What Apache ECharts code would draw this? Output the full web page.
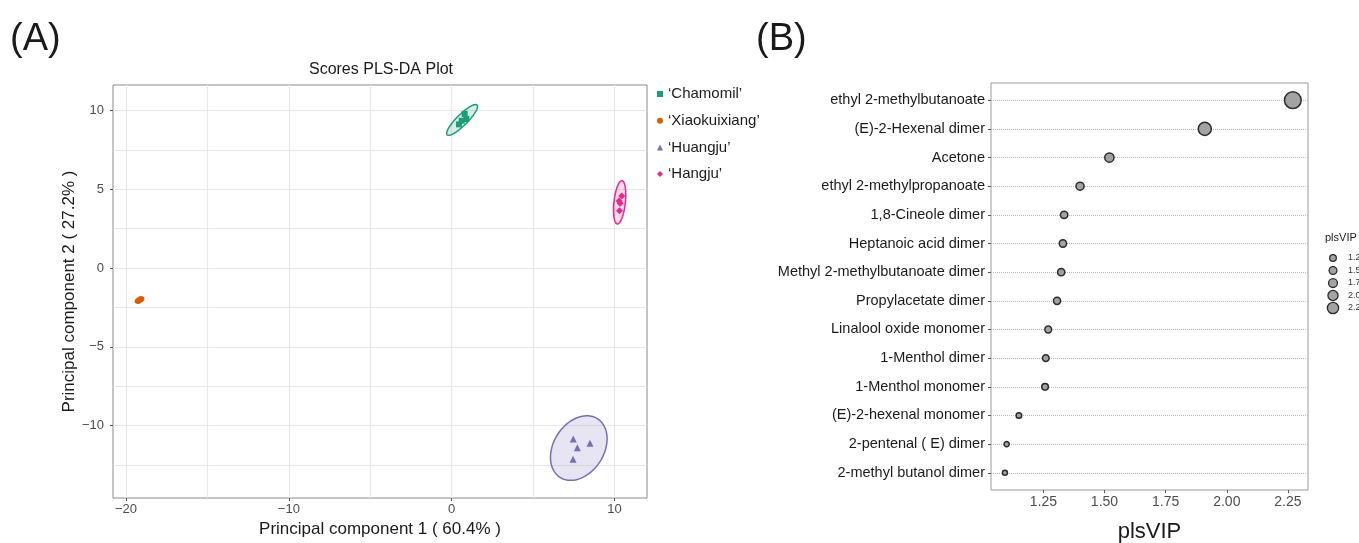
<!DOCTYPE html>
<html><head><meta charset="utf-8">
<script src="https://cdn.jsdelivr.net/npm/echarts@6/dist/echarts.min.js"></script>
<style>html,body{margin:0;padding:0;background:#fff}#c{width:1359px;height:543px}</style>
</head><body><div id="c"></div>
<script>
// ---------- Panel A: PLS-DA scores ----------
const groupNames = ['‘Chamomil’', '‘Xiaokuixiang’', '‘Huangju’', '‘Hangju’'];
const groupColors = ['#1b9e77', '#d95f02', '#7570b3', '#e7298a'];
const groupSymbols = ['rect', 'circle', 'triangle', 'diamond'];
const chamomilPts = [[0.45, 9.12], [0.62, 9.35], [0.90, 9.46], [0.80, 9.78]];
const xiaokuixiangPts = [[-19.25, -2.10], [-19.15, -2.02], [-19.08, -1.96]];
const huangjuPts = [[7.47, -10.86], [7.72, -11.41], [8.50, -11.13], [7.46, -12.14]];
const hangjuPts = [[10.45, 4.57], [10.29, 4.25], [10.35, 4.11], [10.31, 3.64]];
// confidence ellipses: [centerX, centerY, semiMajor, semiMinor, angleDeg]
const chamomilEllipse = [0.64, 9.40, 1.32, 0.34, 46];
const xiaokuixiangEllipse = [-19.17, -2.03, 0.28, 0.13, 25];
const huangjuEllipse = [7.81, -11.43, 2.19, 1.56, 60];
const hangjuEllipse = [10.32, 4.17, 1.38, 0.35, 84];
const xTicksA = [-20, -10, 0, 10];
const yTicksA = [-10, -5, 0, 5, 10];
const xGridA = [-20, -15, -10, -5, 0, 5, 10];
const yGridA = [-12.5, -10, -7.5, -5, -2.5, 0, 2.5, 5, 7.5, 10];

// ---------- Panel B: plsVIP ----------
const compounds = ['ethyl 2-methylbutanoate', '(E)-2-Hexenal dimer', 'Acetone', 'ethyl 2-methylpropanoate',
  '1,8-Cineole dimer', 'Heptanoic acid dimer', 'Methyl 2-methylbutanoate dimer', 'Propylacetate dimer',
  'Linalool oxide monomer', '1-Menthol dimer', '1-Menthol monomer', '(E)-2-hexenal monomer',
  '2-pentenal ( E) dimer', '2-methyl butanol dimer'];
const plsVIP = [2.27, 1.91, 1.52, 1.40, 1.335, 1.33, 1.323, 1.306, 1.27, 1.26, 1.257, 1.15, 1.10, 1.093];
const vipTicks = [1.25, 1.50, 1.75, 2.00, 2.25];
const vipLegendValues = [1.25, 1.50, 1.75, 2.00, 2.25];
const vipLegendLabels = ['1.25', '1.50', '1.75', '2.00', '2.25'];
const rowPos = compounds.map((c, i) => i + 1);

const FONT = 'Liberation Sans';
const minus = v => String(v).replace('-', '\u2212');
const groupPts = [chamomilPts, xiaokuixiangPts, huangjuPts, hangjuPts];
const groupEll = [chamomilEllipse, xiaokuixiangEllipse, huangjuEllipse, hangjuEllipse];

function hexA(hex, a) {
  const n = parseInt(hex.slice(1), 16);
  return `rgba(${n >> 16},${(n >> 8) & 255},${n & 255},${a})`;
}
function ellipseRender(color) {
  return function (params, api) {
    const cx = api.value(0), cy = api.value(1), a = api.value(2), b = api.value(3);
    const th = api.value(4) * Math.PI / 180;
    const pts = [];
    for (let k = 0; k < 90; k++) {
      const t = k / 90 * Math.PI * 2;
      const x = cx + a * Math.cos(th) * Math.cos(t) - b * Math.sin(th) * Math.sin(t);
      const y = cy + a * Math.sin(th) * Math.cos(t) + b * Math.cos(th) * Math.sin(t);
      pts.push(api.coord([x, y]));
    }
    return { type: 'polygon', shape: { points: pts },
      style: { fill: hexA(color, 0.18), stroke: color, lineWidth: 1.5 } };
  };
}
const vipSize = v => 5 + (v - 1.09) * 9.9;
const vipLegendSize = v => 5.5 + (v - 1.0) * 4.6;

const series = [];
series.push({
  type: 'scatter', xAxisIndex: 0, yAxisIndex: 0, data: [], silent: true, z: 0,
  markLine: {
    silent: true, symbol: ['none', 'none'], label: { show: false }, animation: false, z: 0,
    lineStyle: { color: '#e8e8e8', width: 1.2, type: 'solid' },
    data: xGridA.map(v => ({ xAxis: v })).concat(yGridA.map(v => ({ yAxis: v })))
  }
});
groupNames.forEach((name, i) => {
  series.push({
    name: name + ' ellipse', type: 'custom', xAxisIndex: 0, yAxisIndex: 0, z: 2, silent: true,
    renderItem: ellipseRender(groupColors[i]), data: [groupEll[i]], encode: { x: 0, y: 1 }
  });
});
groupNames.forEach((name, i) => {
  series.push({
    name: name, type: 'scatter', xAxisIndex: 0, yAxisIndex: 0, z: 3,
    symbol: groupSymbols[i], symbolSize: i === 2 || i === 3 ? 7 : 6,
    itemStyle: { color: groupColors[i], opacity: 1 }, data: groupPts[i]
  });
});
series.push({
  type: 'scatter', xAxisIndex: 1, yAxisIndex: 1, silent: true, z: 0, data: [],
  markLine: {
    silent: true, symbol: ['none', 'none'], label: { show: false }, animation: false, z: 0,
    lineStyle: { color: '#bdbdbd', width: 1, type: 'dotted' },
    data: rowPos.map(p => ({ yAxis: p }))
  }
});
series.push({
  name: 'plsVIP', type: 'scatter', xAxisIndex: 1, yAxisIndex: 1, z: 3,
  data: plsVIP.map((v, i) => [v, rowPos[i]]),
  symbolSize: val => vipSize(val[0]),
  itemStyle: { color: '#a3a3a3', borderColor: '#2b2b2b', borderWidth: 1.5, opacity: 1 }
});

const graphic = [
  { type: 'text', left: 10, top: 21, style: { text: '(A)', font: '38px ' + FONT, fill: '#1a1a1a' } },
  { type: 'text', left: 756, top: 21, style: { text: '(B)', font: '38px ' + FONT, fill: '#1a1a1a' } },
  { type: 'text', x: 381, y: 70, style: { text: 'Scores PLS-DA Plot', font: '16px ' + FONT, fill: '#1a1a1a',
    textAlign: 'center', textVerticalAlign: 'middle' } },
  { type: 'text', x: 1325, y: 238, style: { text: 'plsVIP', font: '11px ' + FONT, fill: '#1a1a1a',
    textVerticalAlign: 'middle' } }
];
vipLegendValues.forEach((v, i) => {
  const cy = 258 + 12.5 * i;
  graphic.push({ type: 'circle', shape: { cx: 1333, cy: cy, r: vipLegendSize(v) / 2 },
    style: { fill: '#a3a3a3', stroke: '#2b2b2b', lineWidth: 1.3 } });
  graphic.push({ type: 'text', x: 1348, y: cy, style: { text: vipLegendLabels[i], font: '9px ' + FONT,
    fill: '#333', textVerticalAlign: 'middle' } });
});

const option = {
  animation: false,
  backgroundColor: '#fff',
  textStyle: { fontFamily: FONT },
  legend: {
    data: groupNames, orient: 'vertical', left: 652, top: 81, itemWidth: 6, itemHeight: 6,
    itemGap: 10.7, textStyle: { fontSize: 15, color: '#1a1a1a', lineHeight: 16, fontFamily: FONT },
    selectedMode: false
  },
  grid: [
    { left: 113, top: 85, width: 534, height: 413, show: true, borderColor: '#8a8a8a', borderWidth: 1,
      backgroundColor: 'transparent', containLabel: false, outerBoundsMode: 'none' },
    { left: 991, top: 83, width: 317, height: 407, show: true, borderColor: '#9a9a9a', borderWidth: 1,
      backgroundColor: 'transparent', containLabel: false, outerBoundsMode: 'none' }
  ],
  xAxis: [
    { type: 'value', gridIndex: 0, min: -20.8, max: 12.0, splitLine: { show: false },
      axisLine: { show: false, onZero: false },
      axisTick: { show: true, customValues: xTicksA, length: 3, lineStyle: { color: '#555' } },
      axisLabel: { customValues: xTicksA, formatter: minus, fontSize: 13, color: '#4d4d4d', margin: 5 },
      name: 'Principal component 1 ( 60.4% )', nameLocation: 'middle', nameGap: 23,
      nameTextStyle: { fontSize: 17, color: '#1a1a1a' } },
    { type: 'value', gridIndex: 1, min: 1.036, max: 2.332, splitLine: { show: false },
      axisLine: { show: false, onZero: false },
      axisTick: { show: true, customValues: vipTicks, length: 3, lineStyle: { color: '#555' } },
      axisLabel: { customValues: vipTicks, formatter: v => v.toFixed(2), fontSize: 14, color: '#4d4d4d', margin: 5 },
      name: 'plsVIP', nameLocation: 'middle', nameGap: 31,
      nameTextStyle: { fontSize: 22, color: '#1a1a1a' } }
  ],
  yAxis: [
    { type: 'value', gridIndex: 0, min: -14.6, max: 11.62, splitLine: { show: false },
      axisLine: { show: false, onZero: false },
      axisTick: { show: true, customValues: yTicksA, length: 3, lineStyle: { color: '#555' } },
      axisLabel: { customValues: yTicksA, formatter: minus, fontSize: 13, color: '#4d4d4d', margin: 9 },
      name: 'Principal component 2 ( 27.2% )', nameLocation: 'middle', nameGap: 29, nameRotate: 90,
      nameTextStyle: { fontSize: 17, color: '#1a1a1a' } },
    { type: 'value', gridIndex: 1, min: 0.4, max: 14.6, inverse: true,
      axisLine: { show: false, onZero: false }, splitLine: { show: false },
      axisTick: { show: true, customValues: rowPos, length: 3, lineStyle: { color: '#555' } },
      axisLabel: { customValues: rowPos, formatter: v => compounds[Math.round(v) - 1] || '',
        fontSize: 14.5, color: '#1a1a1a', margin: 6 } }
  ],
  graphic: graphic,
  series: series
};
const chart = echarts.init(document.getElementById('c'), null, { renderer: 'canvas' });
chart.setOption(option);
</script>
</body></html>
